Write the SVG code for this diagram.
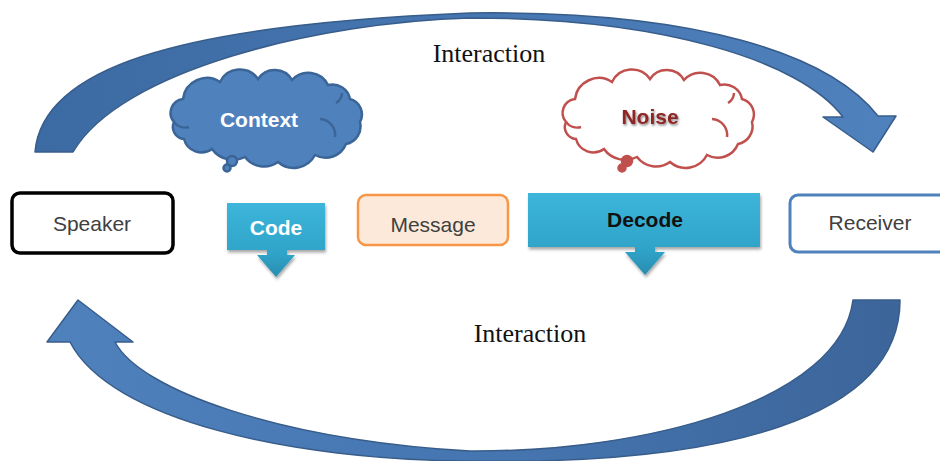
<svg xmlns="http://www.w3.org/2000/svg" width="940" height="461" viewBox="0 0 940 461">
<defs>
<linearGradient id="gTop" x1="0" y1="0" x2="1" y2="0">
<stop offset="0" stop-color="#3C6AA2"/><stop offset="0.5" stop-color="#4676B1"/><stop offset="1" stop-color="#4F81BD"/>
</linearGradient>
<linearGradient id="gBot" x1="0" y1="0" x2="1" y2="0">
<stop offset="0" stop-color="#4F81BD"/><stop offset="0.5" stop-color="#4676B1"/><stop offset="1" stop-color="#3C659A"/>
</linearGradient>
<linearGradient id="gCode" x1="0" y1="0" x2="0" y2="1">
<stop offset="0" stop-color="#3DB5DA"/><stop offset="0.7" stop-color="#2FA3C8"/><stop offset="1" stop-color="#2A8DB0"/>
</linearGradient>
<filter id="sh" x="-10%" y="-10%" width="130%" height="140%">
<feDropShadow dx="1" dy="2.5" stdDeviation="1.8" flood-color="#000" flood-opacity="0.35"/>
</filter>
<filter id="tsh" x="-20%" y="-30%" width="140%" height="170%">
<feDropShadow dx="1" dy="1.5" stdDeviation="1.2" flood-color="#000" flood-opacity="0.5"/>
</filter>
<path id="cloud" d="M4,45 A14,14 0 0 1 13,22 A24,24 0 0 1 50,5 A22,22 0 0 1 88,2 A20,20 0 0 1 122,3 A22,22 0 0 1 158,8 A18,18 0 0 1 180,22 A16,16 0 0 1 190,45 A18,18 0 0 1 176,67 A22,22 0 0 1 145,78 A24,24 0 0 1 108,85 A24,24 0 0 1 75,80 A26,26 0 0 1 42,72 A18,18 0 0 1 14,62 A12,12 0 0 1 4,45 Z"/>
<path id="cloudIn" d="M150,42 A16,16 0 0 1 165,60 M4,45 A14,14 0 0 0 19,50 M172,16 A12,12 0 0 1 166,26"/>
</defs>
<style>
.lbl{font-family:"Liberation Sans","DejaVu Sans",sans-serif;font-size:21px;fill:#404040;text-anchor:middle}
.bold{font-family:"Liberation Sans","DejaVu Sans",sans-serif;font-size:21px;font-weight:bold;text-anchor:middle}
.ser{font-family:"Liberation Serif","Times New Roman",serif;font-size:26px;fill:#111;text-anchor:middle}
.arrow{stroke:#385D8A;stroke-width:1.5;stroke-linejoin:round}
</style>
<g id="connectors">
<g id="interaction-top">
<path class="arrow" fill="url(#gTop)" d="M35,152 C42,70 170,25 470,13 C700,10 830,55 878,116 L896,116 L873,152 L823,117 L843,117 C800,60 660,18 470,18 C320,22 120,70 73,152 Z"/>
<text class="ser" x="489" y="62">Interaction</text>
</g>
<g id="interaction-bottom">
<path class="arrow" fill="url(#gBot)" d="M78,300 L133,342 L115,342 C140,390 280,440 470,451 C650,452 840,400 853,300 L900,300 C900,420 720,465 470,461 C290,460 110,420 70,342 L47,342 Z"/>
<text class="ser" x="530" y="342">Interaction</text>
</g>
</g>
<g id="context">
<g transform="translate(170,77)" fill="#4F81BD" stroke="#3A6596" stroke-width="2.5">
<use href="#cloud"/>
<use href="#cloudIn" fill="none"/>
<circle cx="62" cy="84" r="5"/>
<circle cx="57" cy="91" r="3.5"/>
</g>
<text class="bold" x="259" y="127" fill="#fff">Context</text>
</g>
<g id="noise">
<g transform="translate(562,77)" fill="#fff" stroke="#C0504D" stroke-width="2.5">
<use href="#cloud"/>
<use href="#cloudIn" fill="none"/>
<circle cx="65" cy="84" r="5" fill="#C0504D"/>
<circle cx="60" cy="91" r="3.5" fill="#C0504D"/>
</g>
<text class="bold" x="650" y="124" fill="#8E2525" filter="url(#tsh)">Noise</text>
</g>
<g id="speaker">
<rect x="12" y="193" width="161" height="60" rx="8" fill="#fff" stroke="#000" stroke-width="3.5"/>
<text class="lbl" x="92" y="231">Speaker</text>
</g>
<g id="code">
<path filter="url(#sh)" fill="url(#gCode)" d="M227,203 H325 V250 H287 V255 H295 L276,277 L257,255 H267 V250 H227 Z"/>
<text class="bold" x="276" y="235" fill="#fff">Code</text>
</g>
<g id="message">
<rect x="358" y="195" width="150" height="50" rx="8" fill="#FDE9D9" stroke="#F79646" stroke-width="2.5"/>
<text class="lbl" x="433" y="232">Message</text>
</g>
<g id="decode">
<path filter="url(#sh)" fill="url(#gCode)" d="M528,193 H760 V247 H655 V252 H665 L645,275 L625,252 H635 V247 H528 Z"/>
<text class="bold" x="645" y="227" fill="#111">Decode</text>
</g>
<g id="receiver">
<rect x="790" y="195" width="165" height="57" rx="8" fill="#fff" stroke="#4F81BD" stroke-width="3"/>
<text class="lbl" x="870" y="230">Receiver</text>
</g>
</svg>
